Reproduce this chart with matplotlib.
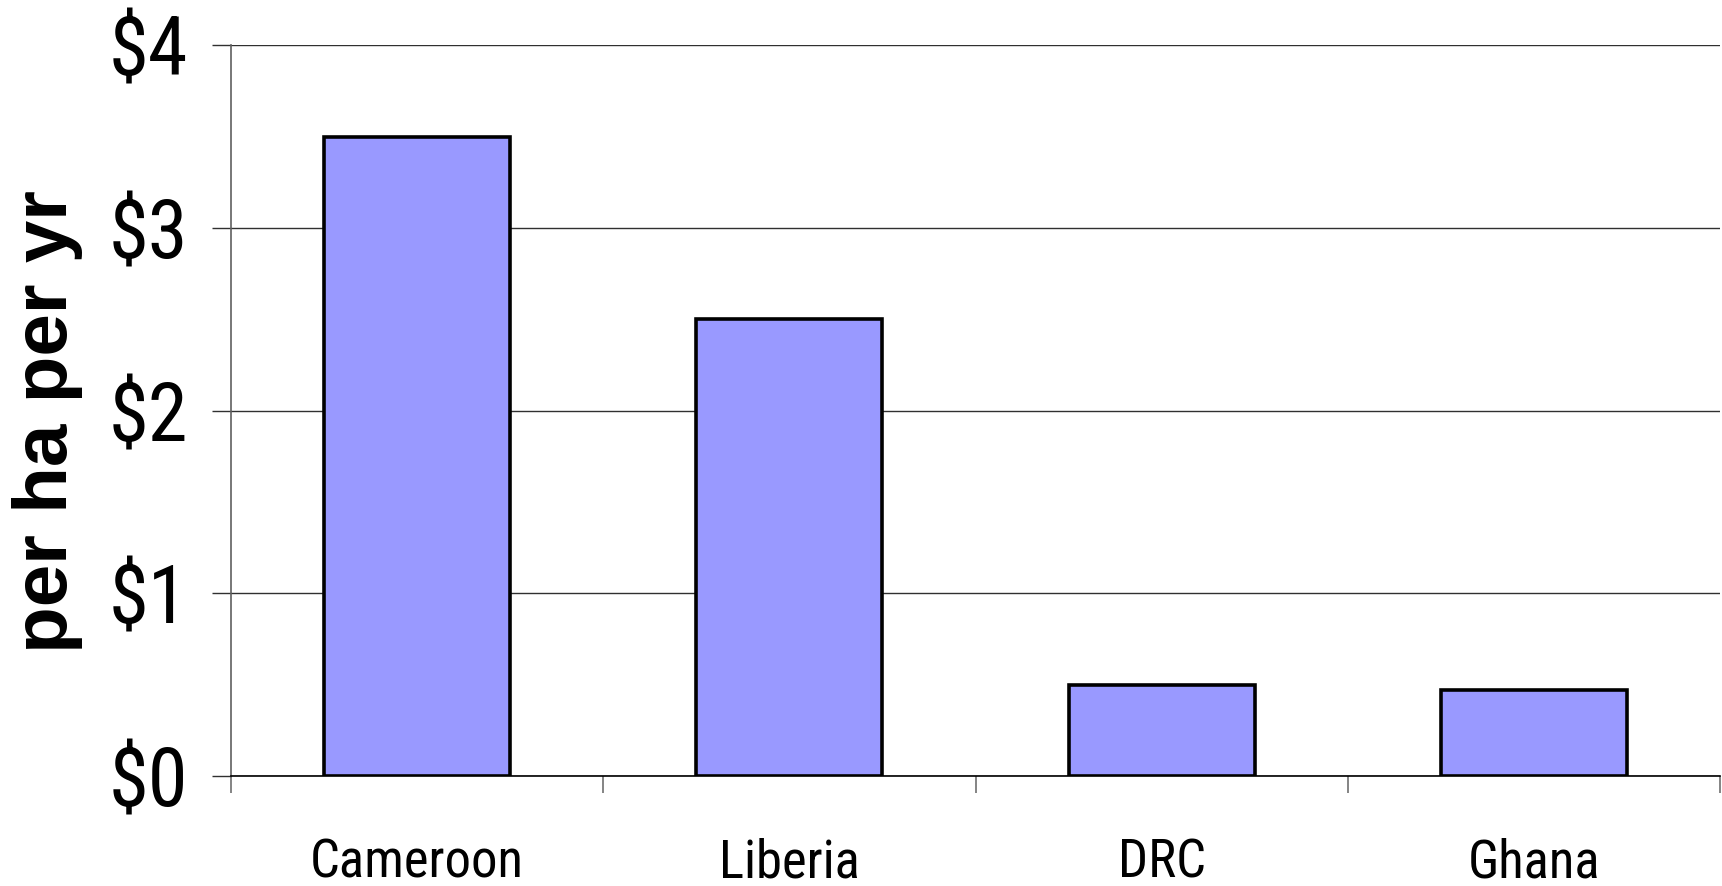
import matplotlib
matplotlib.use("Agg")
import matplotlib.pyplot as plt
from matplotlib.ticker import FixedLocator, NullFormatter

countries = ["Cameroon", "Liberia", "DRC", "Ghana"]
values = [3.5, 2.5, 0.5, 0.47]
y_ticks = [0, 1, 2, 3, 4]
y_labels = ["$0", "$1", "$2", "$3", "$4"]

NARROW = ["Roboto Condensed", "Liberation Sans", "DejaVu Sans"]


def main():
    fig = plt.figure(figsize=(17.22, 8.86), dpi=100)
    ax = fig.add_axes([0.134, 0.124, 0.865, 0.825])

    x = range(len(countries))
    ax.bar(x, values, width=0.5, color="#9999FF", edgecolor="black",
           linewidth=2.6, zorder=3)

    ax.set_xlim(-0.5, len(countries) - 0.5)
    ax.set_ylim(0, 4)

    # y axis: dollar labels with gridlines
    ax.set_yticks(y_ticks)
    ax.set_yticklabels(y_labels, family=NARROW, fontsize=58)
    ax.yaxis.grid(True, color="#303030", linewidth=1.0, zorder=0)
    ax.tick_params(axis="y", length=14, width=1, color="#303030", pad=17)

    # x axis: category names centred, ticks on category boundaries
    ax.xaxis.set_major_locator(FixedLocator([i - 0.5 for i in range(len(countries) + 1)]))
    ax.xaxis.set_major_formatter(NullFormatter())
    ax.xaxis.set_minor_locator(FixedLocator(list(x)))
    ax.set_xticklabels(countries, minor=True, family=NARROW, fontsize=38)
    ax.tick_params(axis="x", which="major", length=12, width=1.2, color="#707070")
    ax.tick_params(axis="x", which="minor", length=0, pad=44)

    for side in ("top", "right"):
        ax.spines[side].set_visible(False)
    ax.spines["left"].set_color("#606060")
    ax.spines["left"].set_linewidth(1.2)
    ax.spines["bottom"].set_color("black")
    ax.spines["bottom"].set_linewidth(1.2)
    ax.set_axisbelow(True)

    ax.set_ylabel("per ha per yr", fontsize=55, fontweight="bold",
                  family=["Liberation Sans", "DejaVu Sans"])
    ax.yaxis.set_label_coords(-0.099, 0.485)

    fig.savefig("out.png", dpi=100)


if __name__ == "__main__":
    main()
